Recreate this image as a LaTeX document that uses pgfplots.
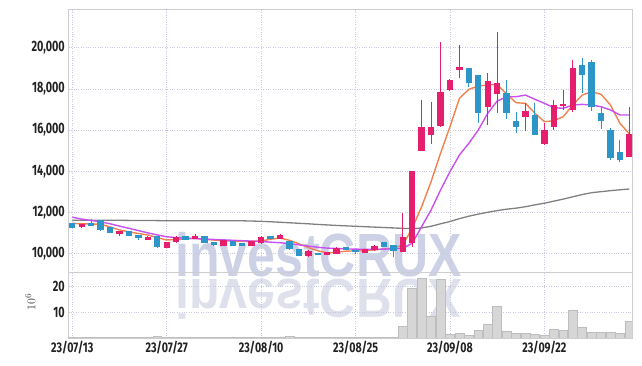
\documentclass[border=0pt]{standalone}
\usepackage{pgfplots}
\usepackage{pgfplotstable}
\pgfplotsset{compat=1.18}
\usepackage{fontspec}
\setmainfont{Fira Sans}
\newfontfamily\wmfont{Liberation Sans}
\definecolor{cup}{RGB}{230,30,110}
\definecolor{cdn}{RGB}{45,150,200}
\definecolor{maf}{RGB}{240,130,80}
\definecolor{mam}{RGB}{200,80,240}
\definecolor{mal}{RGB}{128,128,128}
\definecolor{gridc}{RGB}{200,200,222}
\definecolor{axc}{RGB}{205,205,210}
\definecolor{wm}{RGB}{196,201,226}
\definecolor{wm2}{RGB}{222,224,236}
\definecolor{volf}{RGB}{214,214,214}
\definecolor{vole}{RGB}{190,190,190}
\definecolor{lab}{RGB}{34,34,34}

\pgfplotstableread[row sep=\\]{
x o h l c \\
1 11330 11440 11262 11427 \\
5 10956 11110 10875 11100 \\
8 10680 10860 10680 10810 \\
10 10277 10560 10262 10553 \\
11 10582 10860 10520 10777 \\
13 10745 10956 10740 10860 \\
16 10410 10630 10400 10625 \\
19 10390 10600 10380 10580 \\
20 10560 10880 10450 10795 \\
22 10713 10950 10700 10908 \\
25 9890 10180 9820 10131 \\
27 9970 10060 9960 10050 \\
28 10019 10320 9990 10262 \\
31 10070 10240 10060 10228 \\
32 10180 10430 10140 10340 \\
35 10100 11980 10097 10770 \\
36 10540 14010 10340 14010 \\
37 15000 17450 14980 16140 \\
38 15780 17350 15310 16140 \\
39 16200 20290 16150 17850 \\
40 17950 18500 17900 18430 \\
41 18920 20130 18515 19030 \\
44 17140 18786 16250 18350 \\
45 17790 20777 16815 18270 \\
48 16650 17300 15956 16930 \\
50 15325 16330 15300 16005 \\
51 16165 17460 16000 17218 \\
52 17170 17950 16980 17240 \\
53 16976 19400 16900 19000 \\
59 14710 17107 14700 15810 \\
}\upT

\pgfplotstableread[row sep=\\]{
x o h l c \\
0 11475 11500 11250 11262 \\
2 11490 11670 11340 11360 \\
3 11600 11620 11100 11185 \\
4 11262 11270 10990 11040 \\
6 11068 11070 10860 10875 \\
7 10908 10910 10665 10762 \\
9 10860 10870 10262 10340 \\
12 10860 10880 10690 10698 \\
14 10860 10880 10540 10553 \\
15 10534 10540 10380 10420 \\
17 10582 10590 10380 10388 \\
18 10500 10510 10380 10400 \\
21 10825 10830 10740 10745 \\
23 10582 10600 10160 10228 \\
24 10228 10230 9900 9920 \\
26 10010 10020 9960 9965 \\
29 10290 10300 10170 10180 \\
30 10140 10200 9990 10090 \\
33 10534 10540 10330 10340 \\
34 10422 10430 9854 10146 \\
42 19015 19030 18078 18300 \\
43 18675 18690 16330 16845 \\
46 17800 18430 16524 16860 \\
47 16441 16864 15845 16165 \\
49 16733 17330 15780 15796 \\
54 19127 19485 17786 18675 \\
55 19290 19400 16950 17136 \\
56 16815 17136 16053 16456 \\
57 16005 16090 14550 14660 \\
58 14903 15520 14437 14580 \\
}\dnT

\pgfplotstableread[row sep=\\]{
x f m s v \\
0 11475 11770 11620 0.1 \\
1 11450 11680 11620 0.1 \\
2 11440 11610 11620 0.1 \\
3 11427 11550 11620 0.1 \\
4 11300 11450 11620 0.1 \\
5 11150 11340 11620 0.1 \\
6 11060 11230 11615 0.1 \\
7 10980 11120 11610 0.1 \\
8 10908 11010 11610 0.1 \\
9 10780 10910 11605 0.5 \\
10 10665 10820 11600 0.1 \\
11 10690 10780 11600 0.1 \\
12 10720 10750 11600 0.1 \\
13 10750 10730 11600 0.1 \\
14 10700 10710 11600 0.1 \\
15 10660 10690 11600 0.1 \\
16 10630 10670 11600 0.1 \\
17 10617 10650 11600 0.1 \\
18 10600 10630 11595 0.1 \\
19 10600 10610 11585 0.1 \\
20 10617 10590 11570 0.1 \\
21 10700 10560 11550 0.1 \\
22 10760 10530 11525 0.1 \\
23 10650 10490 11500 0.5 \\
24 10480 10430 11475 0.1 \\
25 10300 10370 11450 0.1 \\
26 10140 10310 11420 0.1 \\
27 10040 10270 11395 0.1 \\
28 10070 10250 11370 0.1 \\
29 10120 10230 11350 0.1 \\
30 10140 10220 11330 0.1 \\
31 10150 10210 11310 0.1 \\
32 10180 10210 11290 0.1 \\
33 10228 10220 11270 0.1 \\
34 10262 10240 11250 0.1 \\
35 10420 10262 11230 4.6 \\
36 11233 10505 11210 19.1 \\
37 12280 11310 11250 23.0 \\
38 13495 12120 11330 8.5 \\
39 14870 13090 11450 22.6 \\
40 16165 13980 11560 1.5 \\
41 17543 14790 11700 1.9 \\
42 17980 15360 11820 1.0 \\
43 18140 16005 11920 3.0 \\
44 18190 16815 12010 5.4 \\
45 18220 17410 12090 12.3 \\
46 17750 17620 12160 2.7 \\
47 17330 17620 12210 1.9 \\
48 17300 17700 12280 1.9 \\
49 16815 17495 12370 1.5 \\
50 16408 17300 12450 1.0 \\
51 16456 17087 12550 3.5 \\
52 16650 17057 12650 3.0 \\
53 17218 17218 12760 10.8 \\
54 17700 17250 12870 4.2 \\
55 17864 17218 12960 2.3 \\
56 17738 17136 13010 2.3 \\
57 17218 16976 13060 2.3 \\
58 16330 16733 13100 1.9 \\
59 15810 16733 13140 6.5 \\
}\maT

\pgfplotsset{
  candle/.style={draw=none, mark=none, forget plot,
    error bars/.cd, y dir=both, y explicit, error mark=none,
    error bar style={#1}},
  myax/.style={
    scale only axis, width=563.3pt, xmin=-0.38, xmax=59.28,
    axis line style={draw=axc, line width=0.8pt},
    tick style={draw=none},
    scaled y ticks=false, scaled x ticks=false,
    grid=major, major grid style={dotted, gridc, line width=0.8pt},
    xtick={0,10,20,30,40,50},
    yticklabel style={font=\bfseries\fontsize{15}{15}\selectfont, text=lab, xscale=0.72, anchor=east, xshift=-2pt},
    xticklabel style={font=\bfseries\fontsize{14}{14}\selectfont, text=lab, xscale=0.76},
  },
}

\begin{document}
\begin{tikzpicture}
\useasboundingbox (0pt,0pt) rectangle (642pt,366pt);
\node[text=wm2, xscale=0.82, yscale=-0.9, anchor=base, inner sep=0pt, font=\wmfont\bfseries\fontsize{61}{61}\selectfont] at (318.5pt,86pt) {investCRUX};
\node[text=wm, opacity=0.85, xscale=0.82, anchor=base, inner sep=0pt, font=\wmfont\bfseries\fontsize{61}{61}\selectfont] at (318.5pt,89pt) {investCRUX};

\begin{axis}[myax, at={(68.7pt,94pt)}, anchor=south west, height=263pt,
  ymin=9110, ymax=21880, xticklabels={},
  ytick={10000,12000,14000,16000,18000,20000},
  yticklabels={{10,000},{12,000},{14,000},{16,000},{18,000},{20,000}}]
\addplot[mal, line width=1.3pt, no marks] table[x=x, y=s] \maT;
\addplot[maf, line width=1.4pt, no marks] table[x=x, y=f] \maT;
\addplot[mam, line width=1.4pt, no marks] table[x=x, y=m] \maT;
\addplot[candle={draw=cup, line width=1pt}] table[x=x, y expr={(\thisrow{h}+\thisrow{l})/2}, y error expr={(\thisrow{h}-\thisrow{l})/2}] \upT;
\addplot[candle={draw=cdn, line width=1pt}] table[x=x, y expr={(\thisrow{h}+\thisrow{l})/2}, y error expr={(\thisrow{h}-\thisrow{l})/2}] \dnT;
\addplot[candle={draw=cup, line width=6.4pt}] table[x=x, y expr={(\thisrow{o}+\thisrow{c})/2}, y error expr={abs(\thisrow{c}-\thisrow{o})/2+20}] \upT;
\addplot[candle={draw=cdn, line width=6.4pt}] table[x=x, y expr={(\thisrow{o}+\thisrow{c})/2}, y error expr={abs(\thisrow{c}-\thisrow{o})/2+20}] \dnT;
\end{axis}

\begin{axis}[myax, at={(68.7pt,28pt)}, anchor=south west, height=66pt,
  ymin=0, ymax=25.4, ytick={10,20}, yticklabels={10,20},
  xticklabels={{23/07/13},{23/07/27},{23/08/10},{23/08/25},{23/09/08},{23/09/22}},
  ylabel={$10^6$}, ylabel style={at={(axis description cs:-0.068,0.55)}, anchor=center, font=\fontsize{13}{13}\selectfont, text=black!75}]
\addplot[ybar, bar width=8.9pt, fill=volf, draw=vole, line width=0.5pt] table[x=x, y=v] \maT;
\end{axis}
\end{tikzpicture}
\end{document}
